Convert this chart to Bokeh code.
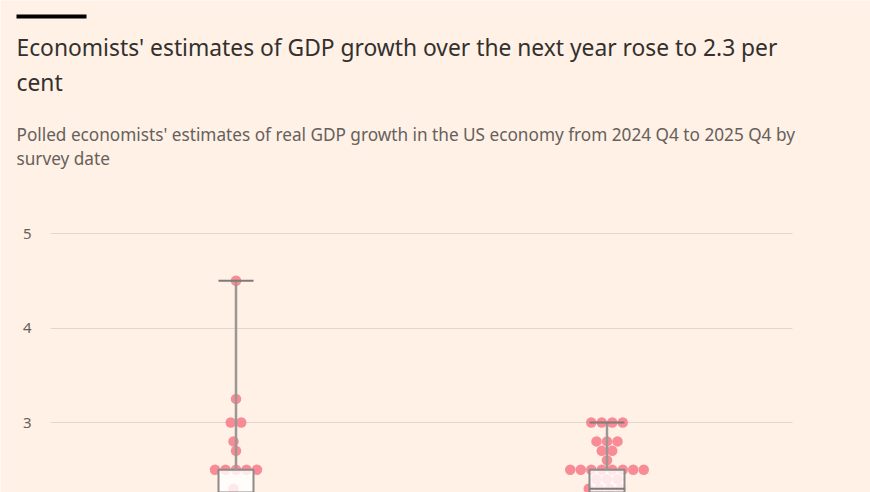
from bokeh.plotting import figure
from bokeh.models import Range1d, FixedTicker, Label, BoxAnnotation
from bokeh.embed import file_html
from bokeh.resources import INLINE

# ---------------- data ----------------
survey_dates = ["January 2025", "April 2025"]
survey_pos = [0, 1]

estimates_first = [4.5, 3.25, 3.0, 3.0, 2.8, 2.7, 2.5, 2.5, 2.5, 2.5, 2.5,
                   2.3, 2.2, 2.1, 2.0, 1.9, 1.8]
estimates_second = [3.0, 3.0, 3.0, 3.0, 2.8, 2.8, 2.8, 2.7, 2.7, 2.6,
                    2.5, 2.5, 2.5, 2.5, 2.5, 2.5, 2.5, 2.5,
                    2.4, 2.4, 2.4, 2.3, 2.3, 2.3, 2.3,
                    2.2, 2.2, 2.1, 2.0, 1.8]

box_upper = [4.5, 3.0]
box_q3 = [2.5, 2.5]
box_median = [2.2, 2.3]
box_q1 = [2.0, 2.1]
box_lower = [1.8, 1.8]

y_ticks = [3, 4, 5]

title_lines = ["Economists' estimates of GDP growth over the next year rose to 2.3 per",
               "cent"]
subtitle_lines = ["Polled economists' estimates of real GDP growth in the US economy from 2024 Q4 to 2025 Q4 by",
                  "survey date"]

# ---------------- layout ----------------
W, H = 870, 492
PLOT_L, PLOT_R = 50, 792          # extent of the chart area (px)
CAT_LO, CAT_HI = -0.5, 1.5        # category range across the chart area
px_x = (PLOT_R - PLOT_L) / (CAT_HI - CAT_LO)
X0 = CAT_LO - PLOT_L / px_x
X1 = X0 + W / px_x
px_y = 94.5                       # px per percentage point
Y_TOP = 5 + 233 / px_y
Y_BOT = Y_TOP - H / px_y
DOT = 10.5                        # dot diameter (px)


def swarm(vals, centre):
    """Symmetric rows per value, shifted sideways to avoid overlap."""
    xs, ys, placed = [], [], []
    for v in sorted(set(vals)):
        n = vals.count(v)
        base = [(i - (n - 1) / 2) * DOT for i in range(n)]
        shift, k = 0.0, 0
        while True:
            cand = [b + shift for b in base]
            ok = True
            for (qx, qy) in placed:
                dy = (v - qy) * px_y
                if abs(dy) >= DOT:
                    continue
                if any(((c - qx) ** 2 + dy ** 2) ** 0.5 < DOT * 0.92 for c in cand):
                    ok = False
                    break
            if ok:
                break
            k += 1
            shift = (-1 if k % 2 else 1) * ((k + 1) // 2) * 0.5
        for c in cand:
            placed.append((c, v))
            xs.append(centre + c / px_x)
            ys.append(v)
    return xs, ys


p = figure(width=W, height=H, output_backend="svg", toolbar_location=None,
           x_range=Range1d(X0, X1), y_range=Range1d(Y_BOT, Y_TOP),
           x_axis_location=None, min_border=0,
           min_border_left=0, min_border_right=0, min_border_top=0,
           min_border_bottom=0)
p.background_fill_color = "#fff1e5"
p.border_fill_color = "#fff1e5"
p.outline_line_color = None
p.xgrid.grid_line_color = None

ax = p.yaxis[0]
ax.ticker = FixedTicker(ticks=y_ticks)
ax.fixed_location = CAT_LO
ax.axis_line_color = None
ax.major_tick_line_color = None
ax.minor_tick_line_color = None
ax.major_label_standoff = 13
ax.major_label_text_font = "Noto Sans"
ax.major_label_text_font_size = "15px"
ax.major_label_text_color = "#66605c"

p.ygrid.ticker = FixedTicker(ticks=y_ticks)
p.ygrid.cross_bounds = (CAT_LO, CAT_HI)
p.ygrid.grid_line_color = "#e3d7cc"
p.ygrid.grid_line_width = 1

dot_color = "#f7808c"
for vals, pos in ((estimates_first, survey_pos[0]), (estimates_second, survey_pos[1])):
    xs, ys = swarm(vals, pos)
    p.scatter(xs, ys, size=DOT, fill_color=dot_color, fill_alpha=0.9,
              line_color=None)

box_w = 35 / px_x
p.vbar(x=survey_pos, width=box_w, bottom=box_q1, top=box_q3,
       fill_color="white", fill_alpha=0.8, line_color="#8c8a88", line_width=2)
p.segment(x0=survey_pos, y0=box_q3, x1=survey_pos, y1=box_upper,
          line_color="#9a9794", line_width=2.5)
p.segment(x0=survey_pos, y0=box_q1, x1=survey_pos, y1=box_lower,
          line_color="#9a9794", line_width=2.5)
p.segment(x0=[x - box_w / 2 for x in survey_pos], y0=box_upper,
          x1=[x + box_w / 2 for x in survey_pos], y1=box_upper,
          line_color="#7d7a78", line_width=2)
p.segment(x0=[x - box_w / 2 for x in survey_pos], y0=box_median,
          x1=[x + box_w / 2 for x in survey_pos], y1=box_median,
          line_color="#7d7a78", line_width=2)

# ---------------- titles ----------------
def sy(page_y):
    return H - page_y


p.add_layout(BoxAnnotation(left=16, right=86, top=sy(14), bottom=sy(18),
                           left_units="screen", right_units="screen",
                           top_units="screen", bottom_units="screen",
                           fill_color="#000000", fill_alpha=1, line_color=None))

for txt, py in zip(title_lines, [47, 82]):
    p.add_layout(Label(x=16, y=sy(py), x_units="screen", y_units="screen",
                       text=txt, text_font="Noto Sans", text_font_size="22.8px",
                       text_color="#33302e", text_baseline="alphabetic"))
for txt, py in zip(subtitle_lines, [134, 158]):
    p.add_layout(Label(x=16, y=sy(py), x_units="screen", y_units="screen",
                       text=txt, text_font="Noto Sans", text_font_size="17.2px",
                       text_color="#66605c", text_baseline="alphabetic"))

open("out.html", "w").write(file_html(p, INLINE))
